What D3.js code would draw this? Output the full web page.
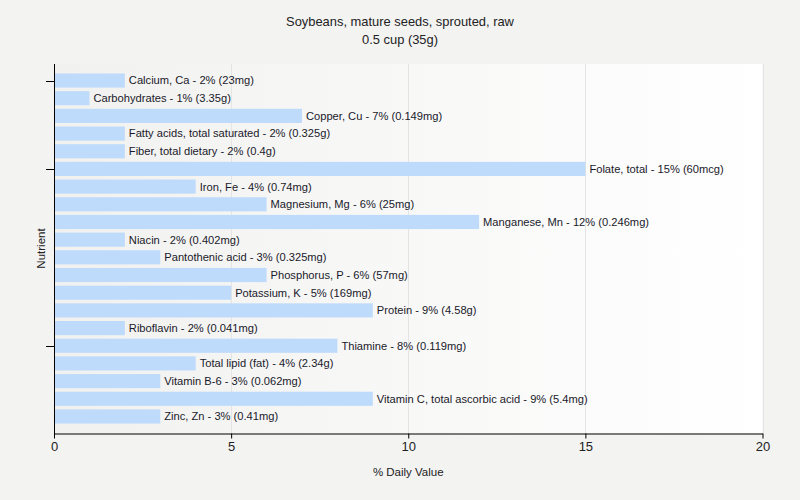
<!DOCTYPE html>
<html><head><meta charset="utf-8">
<script src="https://cdn.jsdelivr.net/npm/d3@7"></script>
<style>body{margin:0;background:#f3f3f2;} svg{display:block;font-family:"Liberation Sans",Arial,sans-serif;}</style>
</head><body>
<svg id="c" width="800" height="500"></svg>
<script>
const titleLines = ["Soybeans, mature seeds, sprouted, raw", "0.5 cup (35g)"];
const nutrients = ["Calcium, Ca","Carbohydrates","Copper, Cu","Fatty acids, total saturated","Fiber, total dietary","Folate, total","Iron, Fe","Magnesium, Mg","Manganese, Mn","Niacin","Pantothenic acid","Phosphorus, P","Potassium, K","Protein","Riboflavin","Thiamine","Total lipid (fat)","Vitamin B-6","Vitamin C, total ascorbic acid","Zinc, Zn"];
const dvPercent = [2,1,7,2,2,15,4,6,12,2,3,6,5,9,2,8,4,3,9,3];
const amounts = ["23mg","3.35g","0.149mg","0.325g","0.4g","60mcg","0.74mg","25mg","0.246mg","0.402mg","0.325mg","57mg","169mg","4.58g","0.041mg","0.119mg","2.34g","0.062mg","5.4mg","0.41mg"];
const xTicks = [0,5,10,15,20];
const yTickIdx = [0,5,15];

(function(){
const svg = d3.select("#c");
const pL=54, pR=762.5, pT=64, pB=433;
const x = d3.scaleLinear().domain([0,20]).range([pL,pR]);
const y = d3.scaleBand().domain(nutrients).range([pT,pB]).paddingInner(0.2).paddingOuter(0.535);

const defs = svg.append("defs");
const g = defs.append("linearGradient").attr("id","bg").attr("x1","0").attr("x2","1").attr("y1","0").attr("y2","0");
g.append("stop").attr("offset","0").attr("stop-color","#f1f1f0");
g.append("stop").attr("offset","1").attr("stop-color","#ffffff");
svg.append("rect").attr("x",pL).attr("y",pT).attr("width",pR-pL).attr("height",pB-pT).attr("fill","url(#bg)");

svg.selectAll(".grid").data(xTicks.filter(d=>d>0)).enter().append("line")
  .attr("x1",d=>Math.round(x(d))+0.5).attr("x2",d=>Math.round(x(d))+0.5).attr("y1",pT).attr("y2",pB)
  .attr("stroke","#e4e4e4").attr("stroke-width",1);

svg.selectAll(".bar").data(nutrients).enter().append("rect")
  .attr("x",pL+1).attr("y",d=>y(d)).attr("height",y.bandwidth())
  .attr("width",(d,i)=>x(dvPercent[i])-pL-1).attr("fill","#bfdbfb");

svg.selectAll(".lbl").data(nutrients).enter().append("text")
  .attr("x",(d,i)=>x(dvPercent[i])+4).attr("y",d=>y(d)+y.bandwidth()/2).attr("dy","0.35em")
  .attr("font-size","11.15px").attr("fill","#1a1a2a")
  .text((d,i)=>`${d} - ${dvPercent[i]}% (${amounts[i]})`);

const xa = svg.append("g").attr("transform",`translate(0,${pB+0.5})`)
  .call(d3.axisBottom(x).tickValues(xTicks).tickSize(5).tickSizeOuter(0).tickPadding(3));
xa.select(".domain").attr("stroke","#000");
xa.selectAll("text").attr("font-size","13px").attr("fill","#222").attr("font-family","'Liberation Sans',Arial,sans-serif");

svg.append("line").attr("x1",pL+0.5).attr("x2",pL+0.5).attr("y1",pT).attr("y2",pB+1).attr("stroke","#000");
svg.selectAll(".yt").data(yTickIdx).enter().append("line")
  .attr("x1",pL-8).attr("x2",pL).attr("y1",i=>Math.round(y(nutrients[i])+y.bandwidth()/2)+0.5)
  .attr("y2",i=>Math.round(y(nutrients[i])+y.bandwidth()/2)+0.5).attr("stroke","#000");

svg.selectAll(".title").data(titleLines).enter().append("text")
  .attr("x",400).attr("y",(d,i)=>26+i*18).attr("text-anchor","middle")
  .attr("font-size","12.9px").attr("fill","#222").text(d=>d);

svg.append("text").attr("x",(pL+pR)/2).attr("y",476).attr("text-anchor","middle")
  .attr("font-size","11.5px").attr("fill","#222").text("% Daily Value");
svg.append("text").attr("transform",`translate(45,${(pT+pB)/2}) rotate(-90)`).attr("text-anchor","middle")
  .attr("font-size","11.5px").attr("fill","#222").text("Nutrient");
})();
</script>
</body></html>
